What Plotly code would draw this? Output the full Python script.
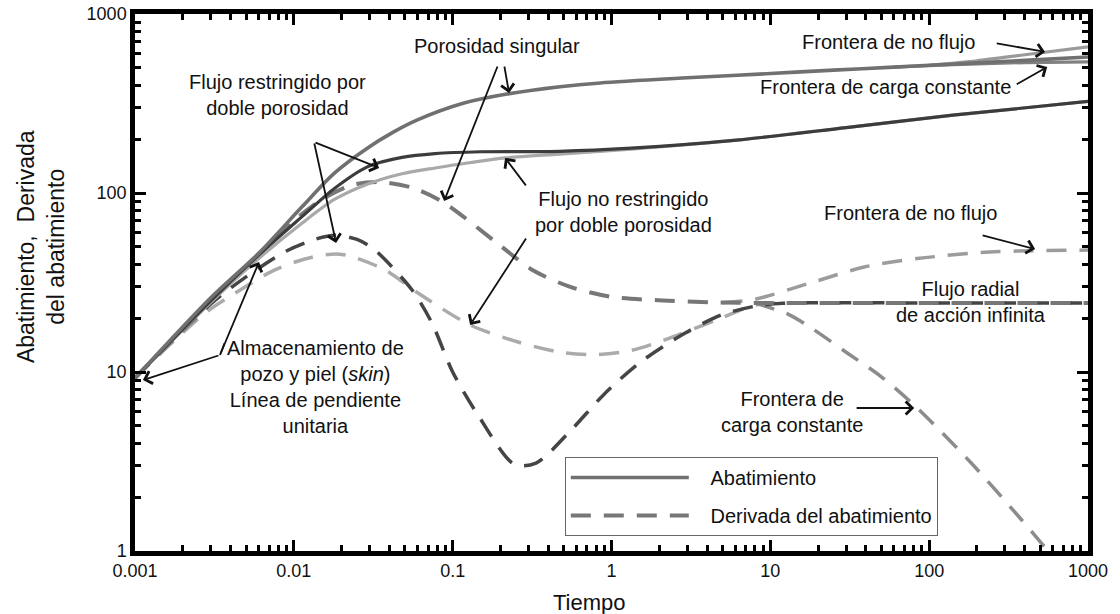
import plotly.graph_objects as go

# ---- Drawdown (abatimiento) curves ----
# Single porosity, infinite acting
time_sp = [0.001, 0.003, 0.006, 0.0113, 0.018, 0.029, 0.042, 0.06, 0.118, 0.22,
           0.474, 0.85, 3, 10, 25, 60, 100, 173, 400, 1000]
draw_sp = [9.25, 26, 46, 84, 129, 178, 218, 256, 318, 357,
           392, 412, 440, 465, 486, 505, 517, 530, 551, 575]

# Late-time branches: no-flow boundary and constant-head boundary
time_nf = [100, 200, 400, 1000]
draw_nf = [517, 548, 592, 655]
time_ch = [60, 100, 200, 400, 1000]
draw_ch = [505, 515, 527, 535, 540]

# Dual porosity, restricted flow
time_dr = [0.001, 0.003, 0.006, 0.0113, 0.018, 0.029, 0.048, 0.0775, 0.15,
           0.474, 1.33, 6.37, 30, 141, 1000]
draw_dr = [9.25, 25, 45, 74, 106, 140, 158, 166, 170,
           171, 178, 198, 232, 272, 325]

# Dual porosity, unrestricted flow
time_du = [0.001, 0.003, 0.006, 0.0113, 0.018, 0.029, 0.048, 0.0775, 0.13,
           0.215, 0.474, 1.33, 6.37, 30, 141, 1000]
draw_du = [9.25, 24.5, 43, 68, 92, 112, 128, 138, 148,
           157, 165, 176, 198, 232, 272, 325]

# ---- Drawdown derivative curves ----
time_sp_d = [0.001, 0.003, 0.006, 0.01, 0.015, 0.0233, 0.035, 0.0555, 0.087,
             0.19, 0.32, 0.55, 1.0, 2.1, 4.2, 10, 100, 1000]
deriv_sp = [9.25, 25, 45, 70, 92, 111, 115, 107, 89,
            52.6, 37, 29.9, 26.3, 25.1, 24.5, 24.3, 24.3, 24.3]

time_dr_d = [0.001, 0.003, 0.005, 0.0088, 0.0135, 0.0182, 0.025, 0.0324, 0.0555,
             0.074, 0.1, 0.147, 0.244, 0.335, 0.557, 0.89, 1.49, 2.91, 4.9, 8,
             12, 100, 1000]
deriv_dr = [9.25, 24, 34, 47, 55, 58, 55, 48, 28.7,
            18.8, 10, 5.6, 3.05, 3.1, 4.74, 7.45, 11.2, 16.5, 20.8, 23.3,
            24.2, 24.3, 24.3]

time_du_d = [0.001, 0.0027, 0.00427, 0.0076, 0.013, 0.0201, 0.0375, 0.0605,
             0.129, 0.258, 0.474, 0.8, 1.33, 2.2, 4.9, 8.1, 15, 100, 1000]
deriv_du = [9.25, 21, 27.6, 37.2, 43.8, 45.4, 37.2, 27.6,
            18.3, 14.7, 12.9, 12.5, 13.2, 15.2, 20, 23.7, 24.3, 24.3, 24.3]

time_ch_d = [8, 13, 17.8, 30, 50, 84, 184, 380, 560]
deriv_ch = [24.3, 21, 17.8, 12.9, 9.4, 6.3, 3.1, 1.5, 1.0]

time_nf_d = [5, 8, 17.8, 39, 84, 239, 1000]
deriv_nf = [24.4, 25.5, 31.4, 38.6, 43, 46.8, 48]

# ---- Axis ticks ----
x_ticks = [0.001, 0.01, 0.1, 1, 10, 100, 1000]
x_ticktext = ["0.001", "0.01", "0.1", "1", "10", "100", "1000"]
y_ticks = [1, 10, 100, 1000]
y_ticktext = ["1", "10", "100", "1000"]

FONT = "Liberation Sans, Arial, sans-serif"
DASH = "20px,13px"
PAD = "\u00a0\u00a0\u00a0"

fig = go.Figure()


def curve(x, y, color, width, dash="solid", name=None, legend=False, rank=None):
    fig.add_trace(go.Scatter(
        x=x, y=y, mode="lines", name=name, showlegend=legend,
        legendrank=rank if rank else 1000,
        legendgroup=name,
        line=dict(color=color, width=width, dash=dash, shape="spline", smoothing=0.8),
        hoverinfo="skip",
    ))


# derivatives (dashed)
curve(time_du_d, deriv_du, "#ababab", 3.5, DASH)
curve(time_nf_d, deriv_nf, "#9c9c9c", 3.5, DASH)
curve(time_ch_d, deriv_ch, "#8c8c8c", 3.5, DASH)
curve(time_dr_d, deriv_dr, "#454545", 3.5, DASH)
curve(time_sp_d, deriv_sp, "#777777", 4, DASH,
      name=PAD + "Derivada del abatimiento", legend=True, rank=2)

# drawdowns (solid)
curve(time_du, draw_du, "#a9a9a9", 3.2)
curve(time_dr, draw_dr, "#3c3c3c", 3.2)
curve(time_nf, draw_nf, "#9a9a9a", 3.2)
curve(time_ch, draw_ch, "#808080", 3.2)
curve(time_sp, draw_sp, "#707070", 3.6, name=PAD + "Abatimiento", legend=True, rank=1)

# ---- Text labels (positions in log10 data units) ----
labels = [
    ("Porosidad singular", -0.720, 2.821),
    ("Flujo restringido por<br>doble porosidad", -2.100, 2.547),
    ("Flujo no restringido<br>por doble porosidad", 0.073, 1.894),
    ("Frontera de no flujo", 1.742, 2.844),
    ("Frontera de carga constante", 1.723, 2.592),
    ("Frontera de no flujo", 1.880, 1.888),
    ("Flujo radial<br>de acción infinita", 2.264, 1.391),
    ("Almacenamiento de<br>pozo y piel (<i>skin</i>)<br>Línea de pendiente<br>unitaria",
     -1.866, 0.916),
    ("Frontera de<br>carga constante", 1.137, 0.777),
]
for txt, lx, ly in labels:
    fig.add_annotation(x=lx, y=ly, xref="x", yref="y", text=txt, showarrow=False,
                       font=dict(family=FONT, size=20, color="#111111"),
                       xanchor="center", yanchor="middle", align="center")

# ---- Pointer arrows: (tail x, tail y, head x, head y, head style) ----
arrows = [
    (-0.676, 2.715, -0.645, 2.559, 4),
    (-0.714, 2.715, -1.054, 1.955, 4),
    (-1.873, 2.285, -1.463, 2.140, 4),
    (-1.873, 2.285, -1.734, 1.721, 4),
    (-0.532, 2.034, -0.670, 2.196, 4),
    (-0.532, 1.754, -0.890, 1.263, 4),
    (-2.433, 1.168, -2.465, 1.095, 0),
    (-2.465, 1.095, -2.950, 0.955, 4),
    (-2.465, 1.095, -2.219, 1.615, 4),
    (2.416, 2.838, 2.730, 2.788, 4),
    (2.542, 2.603, 2.743, 2.704, 4),
    (2.327, 1.765, 2.667, 1.687, 4),
    (1.534, 0.799, 1.906, 0.799, 4),
]
for tx, ty, hx, hy, head in arrows:
    fig.add_annotation(x=hx, y=hy, ax=tx, ay=ty, xref="x", yref="y",
                       axref="x", ayref="y", text="", showarrow=True,
                       arrowhead=head, arrowsize=1.4, arrowwidth=1.8,
                       arrowcolor="#111111", standoff=0, startstandoff=0)

# ---- Axis titles ----
fig.add_annotation(x=0.477, y=-0.095, xref="paper", yref="paper", text="Tiempo",
                   showarrow=False, font=dict(family=FONT, size=22, color="#111111"),
                   xanchor="center", yanchor="middle")
fig.add_annotation(x=-0.0986, y=0.566, xref="paper", yref="paper",
                   text="Abatimiento,\u00a0 Derivada<br>del abatimiento",
                   textangle=-90, showarrow=False,
                   font=dict(family=FONT, size=23, color="#111111"),
                   xanchor="center", yanchor="middle", align="center")

axis_common = dict(
    showline=True, linecolor="black", linewidth=4.5, mirror="ticks",
    ticks="inside", ticklen=11, tickwidth=3, tickcolor="black",
    showgrid=False, zeroline=False,
    tickfont=dict(family=FONT, size=18, color="#111111"),
    minor=dict(ticks="inside", ticklen=6, tickwidth=3, tickcolor="black",
               dtick="D1", showgrid=False),
)

fig.update_xaxes(type="log", range=[-3, 3], tickmode="array", tickvals=x_ticks,
                 ticktext=x_ticktext, **axis_common)
fig.update_yaxes(type="log", range=[0, 3], tickmode="array", tickvals=y_ticks,
                 ticktext=y_ticktext, **axis_common)

fig.update_layout(
    width=1120, height=614,
    margin=dict(l=135, r=32, t=14, b=63, autoexpand=False),
    paper_bgcolor="white", plot_bgcolor="white",
    font=dict(family=FONT, color="#111111"),
    legend=dict(x=0.451, y=0.175, xanchor="left", yanchor="top",
                bgcolor="white", bordercolor="#666666", borderwidth=1,
                font=dict(family=FONT, size=20, color="#111111"),
                itemwidth=118, tracegroupgap=9),
    showlegend=True,
)

fig.write_html("out.html")
